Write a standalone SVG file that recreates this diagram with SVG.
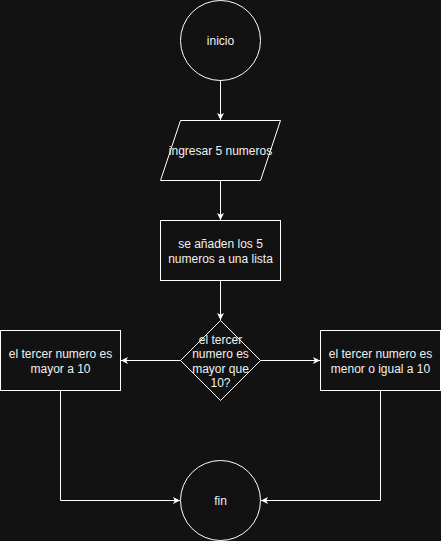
<svg xmlns="http://www.w3.org/2000/svg" width="441" height="541" viewBox="0 0 441 541">
<defs>
<marker id="arr" markerUnits="userSpaceOnUse" markerWidth="8" markerHeight="8" viewBox="0 0 8 8" refX="7" refY="4" orient="auto">
<path d="M0,0.5 L7,4 L0,7.5 L1.8,4 Z" fill="#ffffff" stroke="none"/>
</marker>
<style>
.shape{fill:#121212;stroke:#ffffff;stroke-width:1}
.edge{fill:none;stroke:#ffffff;stroke-width:1;marker-end:url(#arr)}
text{font-family:"Liberation Sans",Arial,sans-serif;font-size:12px;fill:#f0f0f0;text-anchor:middle;dominant-baseline:central}
</style>
</defs>
<rect x="0" y="0" width="441" height="541" fill="#121212"/>
<g id="connectors">
<path class="edge" d="M220.5,80.5 L220.5,120"/>
<path class="edge" d="M220.5,180.5 L220.5,220"/>
<path class="edge" d="M220.5,280.5 L220.5,320"/>
<path class="edge" d="M180.5,360.5 L121,360.5"/>
<path class="edge" d="M260.5,360.5 L320,360.5"/>
<path class="edge" d="M60.5,390.5 L60.5,500.5 L180,500.5"/>
<path class="edge" d="M380.5,390.5 L380.5,500.5 L261,500.5"/>
</g>
<g id="inicio">
<circle class="shape" cx="220.5" cy="40.5" r="40"/>
<text x="220.5" y="40.5">inicio</text>
</g>
<g id="ingresar">
<path class="shape" d="M180.5,120.5 L280.5,120.5 L260.5,180.5 L160.5,180.5 Z"/>
<text x="220.5" y="150.5">ingresar 5 numeros</text>
</g>
<g id="lista">
<rect class="shape" x="160.5" y="220.5" width="120" height="60"/>
<text x="220.5" y="243.5">se añaden los 5</text>
<text x="220.5" y="258.5">numeros a una lista</text>
</g>
<g id="decision">
<path class="shape" d="M220.5,320.5 L260.5,360.5 L220.5,400.5 L180.5,360.5 Z"/>
<text x="220.5" y="340">el tercer</text>
<text x="220.5" y="354.4">numero es</text>
<text x="220.5" y="368.8">mayor que</text>
<text x="220.5" y="383.2">10?</text>
</g>
<g id="mayor">
<rect class="shape" x="0.5" y="330.5" width="120" height="60"/>
<text x="60.5" y="353.5">el tercer numero es</text>
<text x="60.5" y="368.5">mayor a 10</text>
</g>
<g id="menor">
<rect class="shape" x="320.5" y="330.5" width="120" height="60"/>
<text x="380.5" y="353.5">el tercer numero es</text>
<text x="380.5" y="368.5">menor o igual a 10</text>
</g>
<g id="fin">
<circle class="shape" cx="220.5" cy="500.5" r="40"/>
<text x="220.5" y="500.5">fin</text>
</g>
</svg>
